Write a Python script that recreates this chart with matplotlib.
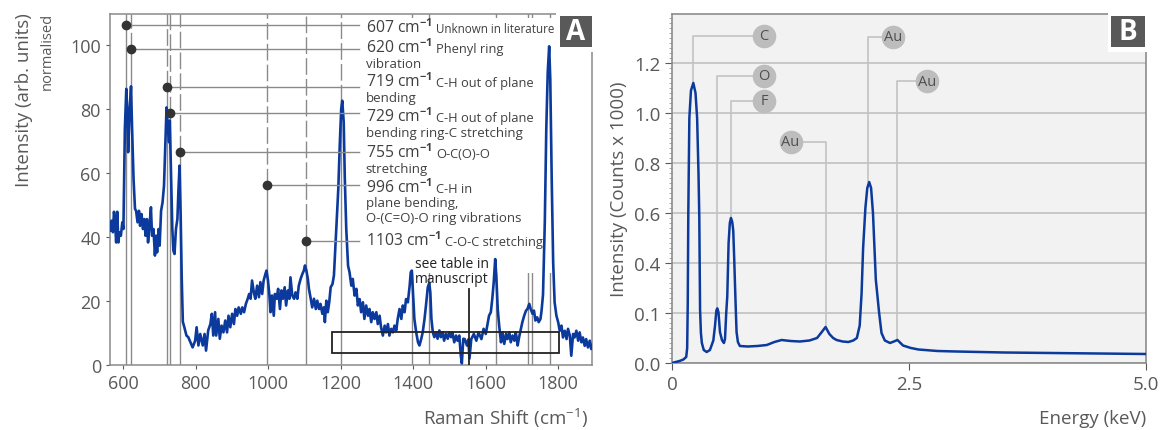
import numpy as np
import matplotlib
matplotlib.use("Agg")
import matplotlib.pyplot as plt
from matplotlib.patches import Rectangle
from matplotlib.ticker import FixedLocator

plt.rcParams['font.family'] = ['Open Sans', 'DejaVu Sans']
plt.rcParams['mathtext.fontset'] = 'custom'
plt.rcParams['mathtext.rm'] = 'Open Sans'
plt.rcParams['mathtext.it'] = 'Open Sans:italic'
plt.rcParams['mathtext.bf'] = 'Open Sans:bold'

# ---- panel A: Raman spectrum (normalised intensity) ----
raman_shift = [
    563, 567, 571, 574, 577, 580, 583, 586, 589, 593, 597, 600, 604, 608, 611, 613,
    617, 621, 624, 628, 632, 635, 639, 643, 646, 650, 654, 658, 661, 665, 668, 672,
    676, 679, 683, 687, 690, 693, 697, 700, 704, 708, 712, 716, 719, 723, 726, 728,
    731, 735, 738, 741, 745, 749, 752, 755, 758, 761, 764, 767, 771, 774, 779, 785,
    791, 798, 802, 807, 812, 819, 824, 828, 834, 840, 844, 848, 853, 856, 862, 866,
    871, 876, 881, 886, 890, 895, 900, 905, 909, 914, 918, 924, 928, 933, 938, 943,
    947, 951, 955, 960, 964, 969, 974, 978, 983, 987, 992, 995, 999, 1003, 1006, 1010,
    1015, 1018, 1023, 1027, 1032, 1036, 1040, 1045, 1049, 1054, 1058, 1061, 1066, 1071, 1075, 1080,
    1084, 1089, 1094, 1098, 1101, 1105, 1109, 1112, 1117, 1121, 1126, 1131, 1135, 1140, 1144, 1149,
    1153, 1156, 1160, 1164, 1168, 1172, 1177, 1181, 1186, 1193, 1197, 1201, 1204, 1208, 1211, 1215,
    1220, 1224, 1229, 1233, 1238, 1243, 1247, 1252, 1256, 1261, 1265, 1270, 1275, 1279, 1284, 1288,
    1293, 1298, 1302, 1307, 1311, 1316, 1321, 1325, 1330, 1334, 1339, 1344, 1348, 1353, 1357, 1362,
    1367, 1371, 1376, 1380, 1385, 1390, 1393, 1396, 1400, 1403, 1408, 1413, 1417, 1422, 1426, 1431,
    1435, 1440, 1444, 1447, 1450, 1454, 1458, 1463, 1467, 1472, 1476, 1481, 1485, 1490, 1495, 1499,
    1504, 1508, 1513, 1518, 1522, 1527, 1531, 1534, 1538, 1542, 1548, 1552, 1555, 1560, 1567, 1574,
    1580, 1588, 1594, 1600, 1604, 1609, 1614, 1618, 1622, 1626, 1629, 1633, 1637, 1642, 1646, 1651,
    1656, 1660, 1665, 1669, 1674, 1679, 1683, 1688, 1692, 1697, 1701, 1706, 1711, 1715, 1720, 1724,
    1729, 1733, 1737, 1742, 1746, 1751, 1754, 1758, 1763, 1767, 1771, 1775, 1778, 1782, 1786, 1790,
    1795, 1800, 1804, 1809, 1813, 1818, 1823, 1827, 1832, 1836, 1841, 1845, 1850, 1855, 1859, 1864,
    1868, 1873, 1877, 1882, 1887, 1891, 1896,
]
raman_intensity = [
    42.0, 45.1, 41.5, 47.9, 44.6, 38.3, 47.9, 38.3, 41.5, 40.4, 44.6, 42.5, 73.7, 86.3, 79.0, 66.5,
    79.0, 87.1, 73.7, 58.1, 48.8, 48.2, 44.6, 48.2, 43.5, 47.2, 42.5, 45.6, 40.4, 45.6, 38.3, 43.5,
    49.3, 40.4, 42.5, 34.2, 40.4, 35.2, 42.5, 37.3, 48.2, 50.8, 56.0, 70.6, 80.5, 73.7, 69.6, 76.4,
    61.3, 42.5, 35.7, 34.7, 42.5, 45.6, 55.0, 62.3, 46.7, 26.9, 13.5, 12.3, 10.5, 9.2, 8.7, 7.1,
    5.5, 7.6, 11.8, 6.1, 9.7, 6.1, 9.7, 4.5, 10.8, 12.8, 16.0, 9.2, 16.5, 9.2, 14.4, 8.2,
    12.3, 10.2, 13.9, 10.2, 15.4, 11.8, 16.0, 12.8, 17.5, 15.4, 18.0, 16.0, 18.0, 16.5, 19.1, 20.7,
    22.2, 20.7, 26.4, 22.7, 20.7, 24.8, 21.2, 25.9, 22.2, 26.4, 28.5, 29.5, 26.4, 21.7, 16.5, 21.7,
    15.4, 22.2, 20.7, 23.8, 17.5, 23.3, 20.7, 24.3, 18.6, 23.3, 20.7, 27.4, 21.7, 20.7, 22.7, 20.7,
    24.8, 26.9, 28.5, 29.5, 31.1, 29.5, 26.9, 23.8, 20.7, 18.0, 20.7, 17.5, 20.1, 17.5, 19.1, 16.0,
    18.0, 13.4, 20.1, 16.5, 19.6, 24.3, 25.3, 28.0, 39.4, 55.0, 68.6, 80.0, 82.6, 75.8, 58.2, 42.5,
    31.0, 29.0, 24.8, 26.9, 21.7, 23.8, 18.6, 20.6, 16.5, 19.6, 14.4, 18.6, 15.4, 17.5, 13.4, 16.5,
    14.4, 16.5, 12.8, 15.4, 11.8, 9.2, 12.3, 10.2, 12.8, 9.2, 11.3, 10.2, 12.3, 10.8, 14.4, 17.5,
    14.4, 18.6, 16.5, 20.6, 19.6, 24.8, 29.0, 29.5, 20.6, 14.4, 10.2, 7.1, 6.1, 8.2, 10.2, 14.4,
    18.6, 24.3, 25.6, 22.7, 14.4, 10.2, 8.7, 10.2, 8.2, 10.8, 8.7, 10.2, 7.6, 9.7, 8.2, 10.2,
    8.7, 10.2, 7.1, 9.2, 7.6, 9.2, 3.0, 0.5, 8.2, 8.1, 6.1, 8.0, 2.0, 8.1, 9.7, 7.6,
    10.2, 8.1, 11.3, 9.7, 12.3, 15.4, 16.5, 20.7, 25.9, 33.1, 28.0, 17.5, 12.3, 7.1, 10.2, 6.6,
    9.7, 8.1, 10.2, 7.1, 9.2, 7.6, 10.2, 6.1, 8.7, 11.3, 13.4, 15.4, 17.0, 17.5, 19.1, 17.5,
    16.0, 17.0, 13.9, 14.9, 13.4, 14.4, 17.0, 22.0, 45.0, 73.7, 91.5, 99.6, 89.4, 58.0, 32.0, 19.6,
    15.4, 13.3, 10.7, 12.3, 8.6, 10.7, 8.1, 11.3, 9.2, 2.9, 9.7, 8.6, 10.7, 7.6, 10.2, 7.1,
    8.6, 6.0, 8.1, 5.5, 7.6, 5.0, 6.6,
]

# assigned bands
band_pos = [607, 620, 719, 729, 755, 996, 1103]
band_dot = [106.3, 98.7, 87.0, 78.7, 66.5, 56.3, 38.6]
band_desc = [
    ["Unknown in literature"],
    ["Phenyl ring", "vibration"],
    ["C-H out of plane", "bending"],
    ["C-H out of plane", "bending ring-C stretching"],
    ["O-C(O)-O", "stretching"],
    ["C-H in", "plane bending,", "O-(C=O)-O ring vibrations"],
    ["C-O-C stretching"],
]
other_peaks = [1396, 1443, 1627, 1717, 1728, 1778]
peak_1200 = 1200
table_marker = 1553

# ---- panel B: EDX spectrum ----
edx_energy = [
    0.00, 0.04, 0.08, 0.12, 0.15, 0.160, 0.166, 0.172, 0.183, 0.200, 0.225, 0.248, 0.265, 0.280,
    0.288, 0.296, 0.305, 0.315, 0.335, 0.366, 0.40, 0.436, 0.454, 0.468, 0.478, 0.490, 0.506,
    0.527, 0.540, 0.548, 0.559, 0.572, 0.583, 0.597, 0.610, 0.622, 0.635, 0.646, 0.656, 0.664,
    0.673, 0.681, 0.695, 0.716, 0.80, 0.90, 1.00, 1.08, 1.156, 1.25, 1.349, 1.45, 1.53, 1.58,
    1.62, 1.66, 1.70, 1.736, 1.80, 1.86, 1.912, 1.95, 1.98, 2.00, 2.016, 2.04, 2.06, 2.08, 2.10,
    2.12, 2.15, 2.185, 2.21, 2.245, 2.30, 2.34, 2.378, 2.437, 2.52, 2.60, 2.80, 3.00, 3.50, 4.00,
    4.50, 5.00,
]
edx_counts = [
    0.000, 0.002, 0.004, 0.007, 0.012, 0.030, 0.15, 0.60, 0.98, 1.09, 1.12, 1.08, 0.98, 0.75,
    0.58, 0.12, 0.06, 0.040, 0.026, 0.022, 0.026, 0.045, 0.075, 0.115, 0.128, 0.105, 0.062,
    0.046, 0.042, 0.040, 0.048, 0.10, 0.20, 0.48, 0.56, 0.58, 0.565, 0.53, 0.42, 0.28,
    0.12, 0.062, 0.042, 0.034, 0.033, 0.034, 0.036, 0.042, 0.046, 0.044, 0.043, 0.045, 0.050, 0.062,
    0.072, 0.058, 0.050, 0.046, 0.043, 0.042, 0.045, 0.050, 0.075, 0.22, 0.46, 0.62, 0.70, 0.724, 0.70,
    0.60, 0.30, 0.10, 0.06, 0.045, 0.040, 0.043, 0.046, 0.035, 0.030, 0.027, 0.024, 0.023, 0.021, 0.020,
    0.019, 0.018,
]
edx_labels = ["C", "O", "F", "Au", "Au", "Au"]
edx_line_energy = [0.225, 0.478, 0.625, 1.62, 2.065, 2.37]
edx_peak_counts = [1.12, 0.128, 0.58, 0.072, 0.724, 0.046]
# label bubble positions (energy, counts)
edx_bubble = [(0.97, 1.308), (0.97, 1.148), (0.97, 1.048), (1.25, 0.884), (2.33, 1.304), (2.69, 1.128)]

W, H = 1161, 431
fig = plt.figure(figsize=(W / 100, H / 100), dpi=100)

blue = '#0b3a9c'
grey = '#8a8a8a'
tick_c = '#595959'
txt_c = '#404040'

# ================= panel A =================
axA = fig.add_axes([110 / W, 1 - 366 / H, (592.3 - 110) / W, (366 - 15) / H])
axA.set_xlim(563, 1894)
axA.set_ylim(0, 109.7)
top = 109.7

for p, d in zip(band_pos, band_dot):
    axA.plot([p, p], [0, d], color=grey, lw=1.0, zorder=1)
    axA.plot([p, p], [d, top], color=grey, lw=1.0, ls=(0, (12, 3)), zorder=1)
axA.plot([peak_1200, peak_1200], [0, 82.6], color=grey, lw=1.0, zorder=1)
axA.plot([peak_1200, peak_1200], [82.6, top], color=grey, lw=1.0, ls=(0, (12, 3)), zorder=1)
for p in other_peaks:
    axA.plot([p, p], [0, top], color=grey, lw=1.0, zorder=1)

# white area behind the assignment text
axA.add_patch(Rectangle((1250, 28.8), 540, 79.6, facecolor='white', edgecolor='none', zorder=2))

axA.plot(raman_shift, raman_intensity, color=blue, lw=1.9, zorder=3)

text_x = 1269
text_y = [[104.0], [97.7, 93.2], [87.1, 82.6], [76.2, 71.7], [64.9, 60.4], [54.0, 49.8, 45.1], [37.5]]
first_size = [8.4, 9.3, 9.3, 9.3, 9.3, 9.3, 9.3]
for p, d, desc, ys, fs in zip(band_pos, band_dot, band_desc, text_y, first_size):
    axA.plot([p, 1249], [d, d], color=grey, lw=1.0, zorder=4)
    axA.plot(p, d, 'o', color='#333333', ms=6, zorder=5)
    t = axA.text(text_x, ys[0], f'{p} cm$^{{\\mathbf{{-1}}}}$', fontsize=11.3, color=txt_c,
                 va='baseline', zorder=6)
    axA.annotate(desc[0], xy=(1, ys[0]), xycoords=(t, 'data'), xytext=(3, 0),
                 textcoords='offset points', fontsize=fs, color=txt_c, va='baseline', zorder=6)
    for line, y in zip(desc[1:], ys[1:]):
        axA.text(text_x, y, line, fontsize=9.5, color=txt_c, va='baseline', zorder=6)

axA.plot([table_marker, table_marker], [0, 23.7], color='#222222', lw=1.3, zorder=4)
axA.text(1404, 30.7, 'see table in', fontsize=10, color='#222222', va='baseline', zorder=6)
axA.text(1404, 25.8, 'manuscript', fontsize=10, color='#222222', va='baseline', zorder=6)
axA.add_patch(Rectangle((1175, 3.7), 626, 6.6, fill=False, edgecolor='#222222', lw=1.3, zorder=4))

axA.set_xticks([600, 800, 1000, 1200, 1400, 1600, 1800])
axA.set_yticks([0, 20, 40, 60, 80, 100])
axA.tick_params(labelsize=13, colors=tick_c, length=3, width=0.8)
for tl in axA.get_xticklabels() + axA.get_yticklabels():
    tl.set_color(tick_c)
for s in axA.spines.values():
    s.set_color(grey)
    s.set_linewidth(1.1)

fig.text(24 / W, 1 - 13 / H, 'Intensity (arb. units)', rotation=90, ha='center', va='top',
         fontsize=13.5, color=tick_c)
fig.text(47 / W, 1 - 13 / H, 'normalised', rotation=90, ha='center', va='top',
         fontsize=10.5, color=tick_c)
fig.text(588 / W, 1 - 418 / H, 'Raman Shift (cm$^{-1}$)', ha='right', va='center',
         fontsize=13.5, color=tick_c)

# ================= panel B =================
axB = fig.add_axes([672 / W, 1 - 364 / H, (1146 - 672) / W, (364 - 15) / H])
knots_v = [0.0, 0.1, 0.4, 2.0]
knots_u = [0.0, 1.0, 2.0, 10.0]


def fwd(v):
    return np.interp(v, knots_v, knots_u)


def inv(u):
    return np.interp(u, knots_u, knots_v)


axB.set_yscale('function', functions=(fwd, inv))
axB.set_xlim(0, 5)
axB.set_ylim(0, 1.396)
axB.set_facecolor('#f2f2f2')
axB.set_yticks([0.0, 0.1, 0.4, 0.6, 0.8, 1.0, 1.2])
axB.set_yticklabels(['0.0', '0.1', '0.4', '0.6', '0.8', '1.0', '1.2'])
axB.yaxis.set_minor_locator(FixedLocator(inv(np.arange(0, 7.0, 0.1))))
axB.set_xticks([0, 2.5, 5.0])
axB.set_xticklabels(['0', '2.5', '5.0'])
axB.yaxis.grid(True, which='major', color='#c4c4c4', lw=1.3)
axB.set_axisbelow(True)
axB.tick_params(axis='both', which='major', labelsize=13.5, colors=tick_c, length=5, width=0.8)
axB.tick_params(axis='y', which='minor', length=2.5, width=0.6, color='#9a9a9a')
for tl in axB.get_xticklabels() + axB.get_yticklabels():
    tl.set_color(tick_c)
for s in axB.spines.values():
    s.set_color('#8c8c8c')
    s.set_linewidth(1.2)

for e, pk, (bx, by), lab in zip(edx_line_energy, edx_peak_counts, edx_bubble, edx_labels):
    axB.plot([bx, e, e], [by, by, pk], color='#c2c2c2', lw=1.2, zorder=2)
    axB.plot(bx, by, 'o', ms=17, color='#bdbdbd', mec='none', zorder=4, clip_on=False)
    axB.text(bx, by, lab, ha='center', va='center', fontsize=10.5, color='#505050', zorder=5)

axB.plot(edx_energy, edx_counts, color=blue, lw=1.8, zorder=3)

axB.set_ylabel('Intensity (Counts x 1000)', fontsize=13.5, color=tick_c, labelpad=4)
fig.text(1146 / W, 1 - 419 / H, 'Energy (keV)', ha='right', va='center', fontsize=13.5, color=tick_c)

# ---- panel letters ----
for (x0, x1), letter in [((556, 597), 'A'), ((1108, 1152), 'B')]:
    fig.patches.append(Rectangle((x0 / W, 1 - 53 / H), (x1 - x0) / W, 43 / H, transform=fig.transFigure,
                                 facecolor='white', edgecolor='none', zorder=1))
for (x0, x1), letter in [((560, 592), 'A'), ((1111, 1145), 'B')]:
    fig.patches.append(Rectangle((x0 / W, 1 - 48 / H), (x1 - x0) / W, 31 / H, transform=fig.transFigure,
                                 facecolor='#595959', edgecolor='none', zorder=2))
    fig.text((x0 + x1) / 2 / W, 1 - 32.5 / H, letter, ha='center', va='center', fontsize=20,
             fontweight='bold', color='white', zorder=3)

fig.savefig('out.png', dpi=100)
